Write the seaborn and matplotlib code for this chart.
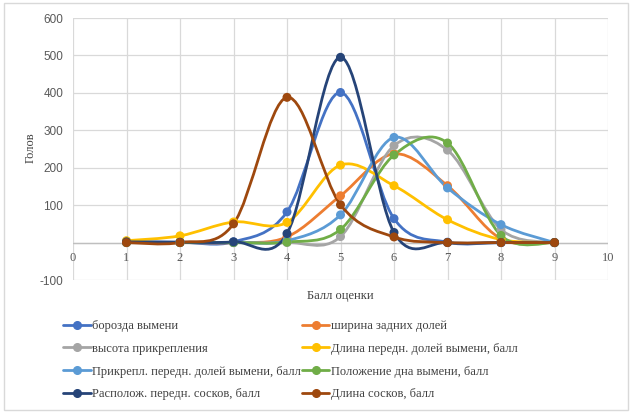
import numpy as np
import pandas as pd
import matplotlib
matplotlib.use("Agg")
import matplotlib.pyplot as plt
import seaborn as sns
from matplotlib.path import Path
from matplotlib.patches import PathPatch
from matplotlib.lines import Line2D

# score points on the x axis
scores = [1, 2, 3, 4, 5, 6, 7, 8, 9]

borozda = [3, 1, 2, 82, 401, 64, 1, 0, 0]
shirina = [0, 0, 0, 15, 125, 237, 152, 10, 0]
vysota = [0, 0, 0, 0, 16, 259, 247, 35, 0]
dlina_dolei = [5, 18, 55, 54, 207, 152, 61, 8, 0]
prikrepl = [0, 0, 0, 5, 74, 281, 146, 48, 0]
polozhenie = [0, 0, 0, 1, 35, 234, 266, 19, 0]
raspolozh = [2, 1, 2, 24, 495, 27, 0, 0, 0]
dlina_soskov = [0, 0, 50, 388, 101, 15, 0, 0, 0]

series_names = [
    "борозда вымени",
    "ширина задних долей",
    "высота прикрепления",
    "Длина передн. долей вымени, балл",
    "Прикрепл. передн. долей вымени, балл",
    "Положение дна вымени, балл",
    "Располож. передн. сосков, балл",
    "Длина сосков, балл",
]
series_values = [borozda, shirina, vysota, dlina_dolei,
                 prikrepl, polozhenie, raspolozh, dlina_soskov]
colors = ["#4472C4", "#ED7D31", "#A5A5A5", "#FFC000",
          "#5B9BD5", "#70AD47", "#264478", "#9E480E"]

y_ticks = [-100, 0, 100, 200, 300, 400, 500, 600]
y_tick_labels = ["-100", "", "100", "200", "300", "400", "500", "600"]

df = pd.DataFrame({
    "score": scores * len(series_names),
    "value": sum(series_values, []),
    "series": [n for n in series_names for _ in scores],
})

sns.set_style("white")
plt.rcParams["font.family"] = ["Liberation Serif", "DejaVu Serif"]
plt.rcParams["axes.unicode_minus"] = False

fig = plt.figure(figsize=(6.32, 4.15), dpi=100)
ax = fig.add_axes([73 / 632, 1 - 280 / 415, (608 - 73) / 632, (280 - 18) / 415])


def smooth_path(xs, ys):
    # Excel-style smoothed line: cubic bezier through points (Catmull-Rom)
    pts = np.column_stack([xs, ys]).astype(float)
    verts = [pts[0]]
    codes = [Path.MOVETO]
    n = len(pts)
    for i in range(n - 1):
        p0 = pts[i - 1] if i > 0 else pts[i]
        p1 = pts[i]
        p2 = pts[i + 1]
        p3 = pts[i + 2] if i + 2 < n else pts[i + 1]
        c1 = p1 + (p2 - p0) / 6.0
        c2 = p2 - (p3 - p1) / 6.0
        verts += [c1, c2, p2]
        codes += [Path.CURVE4] * 3
    return Path(verts, codes)


for name, vals, col in zip(series_names, series_values, colors):
    patch = PathPatch(smooth_path(scores, vals), facecolor="none",
                      edgecolor=col, lw=2.0, capstyle="round", zorder=3)
    ax.add_patch(patch)

sns.scatterplot(data=df, x="score", y="value", hue="series",
                palette=dict(zip(series_names, colors)), s=42,
                edgecolor="none", legend=False, ax=ax, zorder=4)

ax.set_xlim(0, 10)
ax.set_ylim(-100, 600)
ax.set_xticks(range(0, 11))
ax.set_yticks(y_ticks)
ax.set_yticklabels(y_tick_labels, family="Liberation Sans")
ax.grid(True, color="#D9D9D9", lw=0.9)
ax.set_axisbelow(True)
for s in ax.spines.values():
    s.set_visible(False)
ax.axhline(0, color="#BFBFBF", lw=1.0, zorder=2)

ax.tick_params(axis="y", length=0, labelsize=8.5, labelcolor="#595959", pad=7)
# x tick labels sit under the zero line, as in Excel
ax.tick_params(axis="x", length=0)
ax.set_xticklabels([])
for x in range(0, 11):
    ax.text(x, -40, str(x), ha="center", va="center", fontsize=9, color="#595959")

ax.set_xlabel("Балл оценки", fontsize=9, color="#404040", labelpad=4)
ax.set_ylabel("Голов", fontsize=9, color="#404040", va="center")
ax.yaxis.set_label_coords(-0.080, 0.504)

order = [0, 2, 4, 6, 1, 3, 5, 7]
handles = [Line2D([0], [0], color=colors[i], lw=2.0, marker="o", markersize=5.5)
           for i in order]
labels = [series_names[i] for i in order]
fig.legend(handles, labels, loc="upper left",
           bbox_to_anchor=(63 / 632, 1 - 320 / 415), ncol=2, frameon=False,
           fontsize=9, labelcolor="#404040", handlelength=2.2,
           handletextpad=0.1, columnspacing=0.1, labelspacing=0.86,
           borderaxespad=0, borderpad=0)

fig.add_artist(plt.Rectangle((4 / 632, 5 / 415), 624 / 632, 407 / 415,
                             transform=fig.transFigure, fill=False,
                             edgecolor="#D9D9D9", lw=1))

fig.savefig("out.png", dpi=100)
